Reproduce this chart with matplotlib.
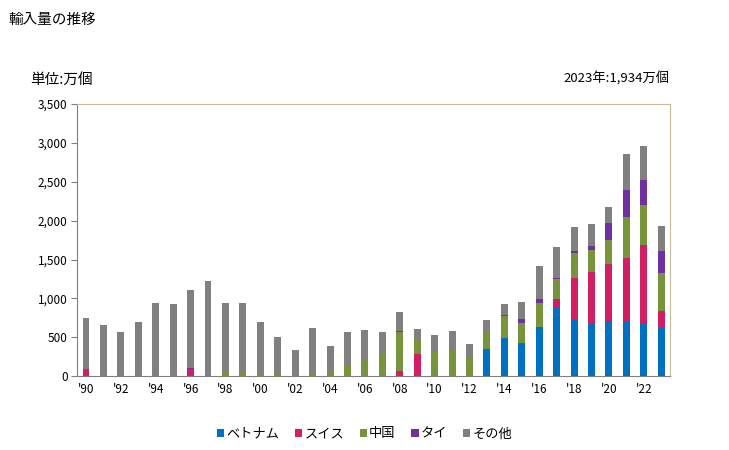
import matplotlib.pyplot as plt
import numpy as np

plt.rcParams['font.family'] = ['Noto Sans CJK JP', 'DejaVu Sans']

years = list(range(1990, 2024))
vietnam = [0] * 23 + [347, 489, 425, 630, 888, 733, 669, 708, 695, 669, 618]
swiss = [90, 0, 0, 0, 0, 0, 90, 0, 0, 0, 0, 0, 0, 0, 0, 0, 0, 0, 64, 283,
         0, 0, 0, 0, 0, 0, 0, 103, 528, 669, 733, 823, 1017, 218]
china = [0, 0, 0, 0, 0, 0, 0, 0, 56, 56, 30, 34, 9, 30, 56, 137, 210, 287, 500, 189,
         309, 335, 232, 232, 283, 257, 309, 257, 322, 283, 309, 528, 515, 489]
thai = [0, 0, 0, 0, 0, 0, 10, 0, 0, 0, 0, 0, 0, 0, 0, 0, 0, 0, 13, 0,
        0, 0, 0, 0, 10, 51, 52, 13, 25, 52, 219, 348, 321, 283]
other = [656, 656, 566, 695, 940, 927, 1007, 1222, 884, 884, 665, 468, 326, 588, 330, 429, 382, 279, 247, 133,
         218, 244, 180, 142, 145, 219, 424, 399, 309, 283, 206, 463, 438, 326]

series = [('ベトナム', vietnam, '#0070C0'),
          ('スイス', swiss, '#D01F63'),
          ('中国', china, '#77933C'),
          ('タイ', thai, '#7030A0'),
          ('その他', other, '#808080')]

fig = plt.figure(figsize=(7.29, 4.5), dpi=100)
ax = fig.add_axes([0.106, 0.164, 0.813, 0.605])

x = np.arange(len(years))
bottom = np.zeros(len(years))
for name, vals, col in series:
    ax.bar(x, vals, width=0.4, bottom=bottom, color=col, label=name)
    bottom += np.array(vals)

ax.set_xlim(-0.5, len(years) - 0.5)
ax.set_ylim(0, 3500)
ax.set_yticks(range(0, 3501, 500))
ax.set_yticklabels([f'{v:,}' for v in range(0, 3501, 500)], fontsize=8.5)
ax.set_xticks(x[::2])
ax.set_xticklabels(["'" + str(y)[2:] for y in years[::2]], fontsize=8.5)
ax.tick_params(axis='x', length=0, pad=5)
ax.tick_params(axis='y', length=4, color='#808080', pad=3)

for s in ['left', 'bottom']:
    ax.spines[s].set_color('#808080')
for s in ['top', 'right']:
    ax.spines[s].set_color('#C4BC96')

fig.text(0.011, 0.972, '輸入量の推移', fontsize=10.5, va='top')
fig.text(0.041, 0.838, '単位:万個', fontsize=10.5, va='top')
fig.text(0.919, 0.81, '2023年:1,934万個', fontsize=9.5, ha='right', va='bottom')

fig.legend(loc='lower center', bbox_to_anchor=(0.5, -0.005), ncol=5, frameon=False,
           fontsize=9.5, handlelength=0.55, handleheight=0.55, handletextpad=0.15,
           columnspacing=1.2)

plt.savefig('out.png')
